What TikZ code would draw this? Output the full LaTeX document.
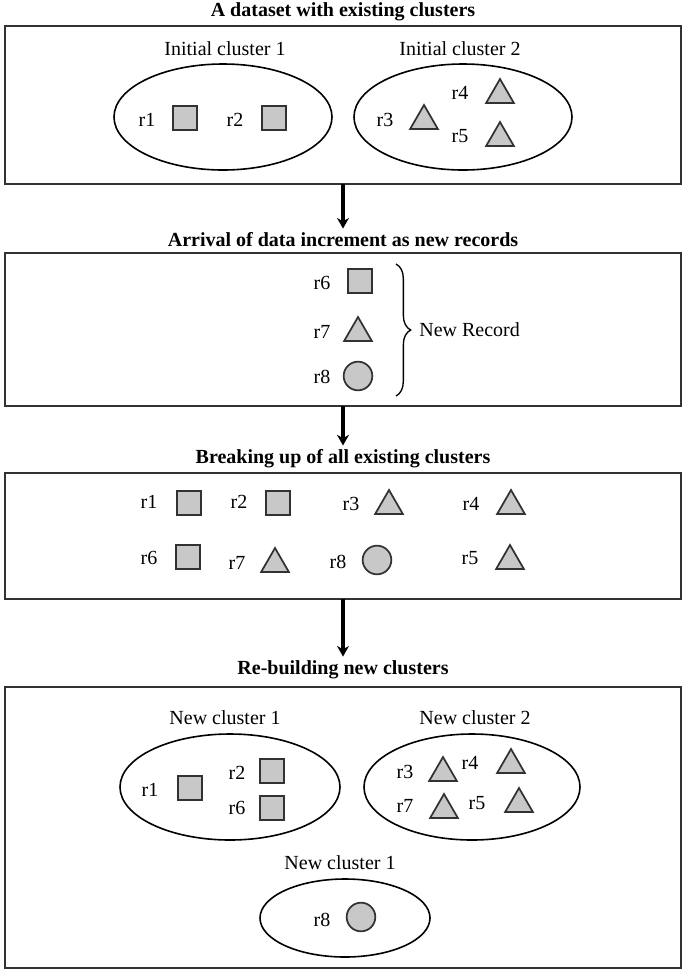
\documentclass[tikz,border=0pt]{standalone}
\usepackage{fontspec}
\setmainfont{Liberation Serif}
\usetikzlibrary{shapes.geometric,decorations.pathreplacing,arrows.meta}

\definecolor{recgray}{RGB}{200,200,200}
\definecolor{edgegray}{RGB}{50,50,50}

\tikzset{
  ttl/.style={font=\fontsize{15}{18}\selectfont\bfseries, inner sep=1pt},
  lbl/.style={font=\fontsize{15}{18}\selectfont, inner sep=0pt},
  box/.style={draw=edgegray, line width=1.6pt},
  clus/.style={draw=black, line width=1.2pt},
  flow/.style={line width=3pt, ->, shorten >=2pt},
  sq/.style={draw=edgegray, fill=recgray, line width=1.3pt, minimum size=18pt, inner sep=0pt},
  tri/.style={regular polygon, regular polygon sides=3, draw=edgegray, fill=recgray,
    line width=1.3pt, minimum size=24pt, inner sep=0pt},
  dot/.style={circle, draw=edgegray, fill=recgray, line width=1.3pt, minimum size=21.5pt, inner sep=0pt}
}

\begin{document}
\begin{tikzpicture}[x=0.75pt, y=-0.75pt, >={Stealth[length=8pt, width=9pt]}]
    \useasboundingbox (0,0) rectangle (685,972);

    % Step 1: the existing clusters
    \node[ttl] (ttl1) at (343,12) {A dataset with existing clusters};
    \draw[box] (5,26) rectangle (681,184);
    \coordinate (box1s) at (343,184);
    \node[lbl] (ini1) at (225,49) {Initial cluster 1};
    \node[lbl] (ini2) at (460,49) {Initial cluster 2};
    \draw[clus] (223,117) ellipse (109 and 53);
    \draw[clus] (463,117) ellipse (109 and 53);
    \node[lbl] (a1) at (147,120) {r1};  \node[sq] (sa1) at (185,118) {};
    \node[lbl] (a2) at (235,120) {r2};  \node[sq] (sa2) at (274,118) {};
    \node[lbl] (a3) at (385,120) {r3};  \node[tri] (sa3) at (424,121) {};
    \node[lbl] (a4) at (460,93) {r4};   \node[tri] (sa4) at (500,95) {};
    \node[lbl] (a5) at (460,136) {r5};  \node[tri] (sa5) at (500,138) {};

    % Step 2: the increment
    \node[ttl] (ttl2) at (343,240) {Arrival of data increment as new records};
    \draw[flow] (box1s) -- (ttl2);
    \draw[box] (5,253) rectangle (681,406);
    \coordinate (box2s) at (343,406);
    \node[lbl] (b6) at (322,283) {r6};  \node[sq] (sb6) at (360,281) {};
    \node[lbl] (b7) at (322,332) {r7};  \node[tri] (sb7) at (358,333) {};
    \node[lbl] (b8) at (322,377) {r8};  \node[dot] (sb8) at (358,376) {};
    \coordinate (brtop) at (396,264);
    \coordinate (brbot) at (396,396);
    \draw[line width=1pt, decorate, decoration={brace, amplitude=11pt}] (brtop) -- (brbot)
        node[lbl, midway, anchor=west, xshift=17pt] (newrec) {New Record};

    % Step 3: all clusters broken up
    \node[ttl] (ttl3) at (343,459) {Breaking up of all existing clusters};
    \draw[flow] (box2s) -- (ttl3);
    \draw[box] (5,473) rectangle (681,599);
    \coordinate (box3s) at (343,599);
    \node[lbl] (c1) at (149,502) {r1};  \node[sq] (sc1) at (189,503) {};
    \node[lbl] (c2) at (239,502) {r2};  \node[sq] (sc2) at (278,503) {};
    \node[lbl] (c3) at (351,504) {r3};  \node[tri] (sc3) at (389,506) {};
    \node[lbl] (c4) at (471,504) {r4};  \node[tri] (sc4) at (511,506) {};
    \node[lbl] (c6) at (149,558) {r6};  \node[sq] (sc6) at (188,557) {};
    \node[lbl] (c7) at (237,563) {r7};  \node[tri] (sc7) at (275,564) {};
    \node[lbl] (c8) at (338,562) {r8};  \node[dot] (sc8) at (377,560) {};
    \node[lbl] (c5) at (470,558) {r5};  \node[tri] (sc5) at (510,561) {};

    % Step 4: the rebuilt clusters
    \node[ttl] (ttl4) at (343,670) {Re-building new clusters};
    \draw[flow] (box3s) -- (ttl4);
    \draw[box] (5,687) rectangle (681,968);
    \node[lbl] (new1) at (225,718) {New cluster 1};
    \node[lbl] (new2) at (475,718) {New cluster 2};
    \draw[clus] (230,787) ellipse (110 and 53);
    \draw[clus] (472,787) ellipse (108 and 53);
    \node[lbl] (d1) at (150,790) {r1};  \node[sq] (sd1) at (190,788) {};
    \node[lbl] (d2) at (237,773) {r2};  \node[sq] (sd2) at (272,771) {};
    \node[lbl] (d6) at (237,808) {r6};  \node[sq] (sd6) at (272,808) {};
    \node[lbl] (d3) at (405,772) {r3};  \node[tri] (sd3) at (443,773) {};
    \node[lbl] (d4) at (470,763) {r4};  \node[tri] (sd4) at (511,765) {};
    \node[lbl] (d7) at (405,806) {r7};  \node[tri] (sd7) at (444,810) {};
    \node[lbl] (d5) at (477,803) {r5};  \node[tri] (sd5) at (519,804) {};
    \node[lbl] (new3) at (340,863) {New cluster 1};
    \draw[clus] (345,918) ellipse (85 and 39);
    \node[lbl] (d8) at (322,920) {r8};  \node[dot] (sd8) at (361,917) {};
\end{tikzpicture}
\end{document}
